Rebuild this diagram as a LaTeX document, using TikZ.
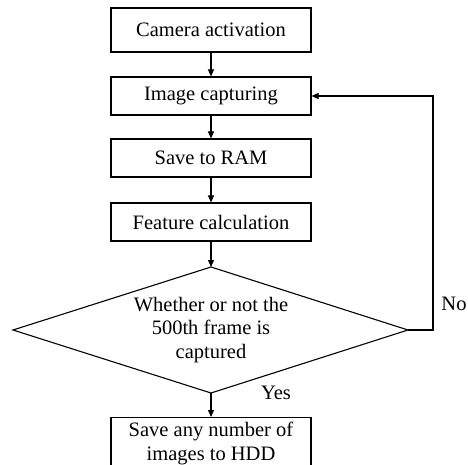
\documentclass[tikz,border=0pt]{standalone}
\usepackage{fontspec}
\setmainfont{Liberation Serif}
\usetikzlibrary{arrows.meta}

\begin{document}
\begin{tikzpicture}[x=1pt,y=-1pt,
  txt/.style={font=\fontsize{20.5}{23.5}\selectfont},
  stepbox/.style={draw, line width=1.1pt, minimum width=200pt, inner sep=0pt, align=center, txt},
  link/.style={draw, line width=1.1pt, -{Triangle[length=7pt,width=6pt]}}]
\useasboundingbox (0,0) rectangle (468,465);
\clip (0,0) rectangle (468,465);

% process steps
\node[stepbox, minimum height=44pt] (cam) at (211,30) {Camera activation};
\node[stepbox, minimum height=38pt] (cap) at (211,96) {Image capturing};
\node[stepbox, minimum height=38pt] (ram) at (211,158) {Save to RAM};
\node[stepbox, minimum height=38pt] (feat) at (211,222) {Feature calculation};

% decision: a wide, flat diamond with its corners named
\coordinate (dtop) at (211,267);
\coordinate (dbot) at (211,393);
\coordinate (dleft) at (13,330);
\coordinate (dright) at (408,330);
\draw[line width=1.1pt, line join=miter] (dtop) -- (dright) -- (dbot) -- (dleft) -- cycle;
\node[align=center, txt] (dec) at (211,330)
      {Whether or not the\\500th frame is\\captured};

% final step
\node[stepbox, minimum height=52pt, anchor=north] (hdd) at (211,417)
      {Save any number of\\images to HDD};

% connectors
\draw[link] (cam) -- (cap);
\draw[link] (cap) -- (ram);
\draw[link] (ram) -- (feat);
\draw[link] (feat) -- (dtop);
\draw[link] (dbot) -- (hdd);
\coordinate (loop) at (433,330);
\draw[link] (dright) -- (loop) |- (cap.east);

% branch labels
\node[txt] (no) at (454,304) {No};
\node[txt] (yes) at (276,393) {Yes};
\end{tikzpicture}
\end{document}
